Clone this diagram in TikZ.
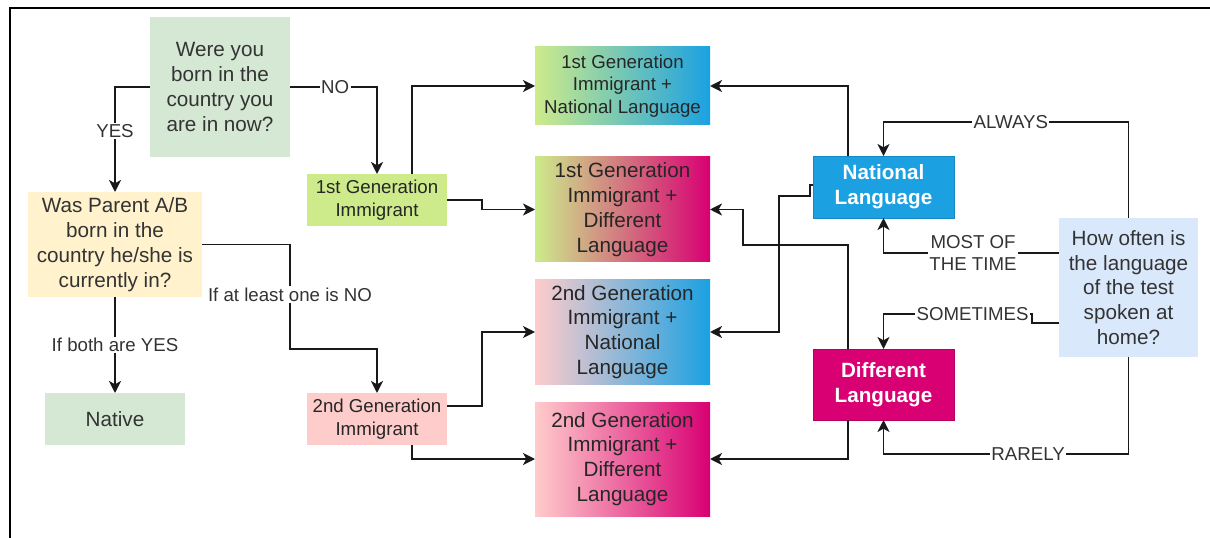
\documentclass[tikz,border=0pt]{standalone}
\usepackage{fontspec}
\setmainfont{Liberation Sans}
\usepackage{tikz}
\usetikzlibrary{arrows.meta, positioning}
\usepackage{xcolor}
\definecolor{qgreen}{HTML}{D5E8D4}
\definecolor{qyellow}{HTML}{FFF2CC}
\definecolor{qblue}{HTML}{DAE8FC}
\definecolor{gengreen}{HTML}{CDEB8B}
\definecolor{genpink}{HTML}{FFCCCC}
\definecolor{natblue}{HTML}{1BA1E2}
\definecolor{difmag}{HTML}{D80073}
\newcommand{\txtbig}{\fontsize{15.5}{18.6}\selectfont}
\newcommand{\txtsmall}{\fontsize{14}{17}\selectfont}
\tikzset{
  question/.style={
    rectangle, outer sep=0pt, inner sep=2pt,
    align=center, text=black!80, font=\txtbig
  },
  group/.style={
    rectangle, outer sep=0pt, inner sep=2pt,
    minimum width=105pt, minimum height=39pt,
    align=center, text=black!85, font=\txtsmall
  },
  outcome/.style={
    rectangle, outer sep=0pt, inner sep=2pt,
    minimum width=131.25pt,
    align=center, text=black!85, font=\txtbig
  },
  lang/.style={
    rectangle, outer sep=0pt, inner sep=2pt, line width=0.6pt,
    minimum width=105.75pt,
    align=center, text=white, font=\txtbig\bfseries
  },
  arrow/.style={-{Stealth[length=9pt,width=9pt,inset=2.5pt]}, line width=1.3pt, draw=black!90},
  lbl/.style={fill=white, inner sep=1pt, text=black!80, font=\txtsmall, align=center}
}
\begin{document}
\begin{tikzpicture}[x=0.75pt, y=-0.75pt]
  \useasboundingbox (0,0) rectangle (1210,538);
  \draw[line width=1.5pt] (10,538) -- (10,8) -- (1210,8);

  % questions
  \node[question, fill=qgreen, minimum width=105pt, minimum height=105pt] (born) at (220,87)
    {Were you\\born in the\\country you\\are in now?};
  \node[question, fill=qyellow, minimum width=130.5pt, minimum height=78.75pt] (parent) at (115,244.5)
    {Was Parent A/B\\born in the\\country he/she is\\currently in?};
  \node[question, fill=qgreen, minimum width=105pt, minimum height=39pt] (native) at (115,419) {Native};
  \node[question, fill=qblue, minimum width=104.25pt, minimum height=104.25pt] (often) at (1128.5,287.5)
    {How often is\\the language\\of the test\\spoken at\\home?};

  % generations
  \node[group, fill=gengreen] (first) at (377,200) {1st Generation\\Immigrant};
  \node[group, fill=genpink] (second) at (377,419) {2nd Generation\\Immigrant};

  % outcomes
  \node[outcome, left color=gengreen, right color=natblue, minimum height=58.5pt, font=\txtsmall] (firstnat) at (622.5,86)
    {1st Generation\\Immigrant +\\National Language};
  \node[outcome, left color=gengreen, right color=difmag, minimum height=78.75pt, below=24pt of firstnat] (firstdif)
    {1st Generation\\Immigrant +\\Different\\Language};
  \node[outcome, left color=genpink, right color=natblue, minimum height=78pt, below=13.5pt of firstdif] (secnat)
    {2nd Generation\\Immigrant +\\National\\Language};
  \node[outcome, left color=genpink, right color=difmag, minimum height=85.5pt, below=13.5pt of secnat] (secdif)
    {2nd Generation\\Immigrant +\\Different\\Language};

  % languages
  \node[lang, fill=natblue, draw=natblue!85!black, minimum height=46.5pt] (nat) at (883.5,187) {National\\Language};
  \node[lang, fill=difmag, draw=difmag!85!black, minimum height=53.25pt] (dif) at (883.5,384.5) {Different\\Language};

  % left part
  \draw[arrow] (born.west) -| node[lbl, pos=0.71] {YES} (parent.north);
  \draw[arrow] (born.east) -| node[lbl, pos=0.26] {NO} (first.north);
  \draw[arrow] (parent.east) -| node[lbl, pos=0.74] {If at least one is NO} (290,349) -| (second.north);
  \draw[arrow] (parent.south) -- node[lbl] {If both are YES} (native.north);

  \draw[arrow] ([xshift=26.25pt]first.north) |- (firstnat.west);
  \draw[arrow] (first.east) -- ++(35,0) |- (firstdif.west);
  \draw[arrow] ([yshift=9.75pt]second.east) -- ++(35,0) |- (secnat.west);
  \draw[arrow] ([xshift=26.25pt]second.south) |- (secdif.west);

  % right part
  \draw[arrow] ([xshift=-26.6pt]nat.north) |- (firstnat.east);
  \draw[arrow] ([yshift=1.5pt]nat.west) -- ++(-3,0) -- ++(0,11) -- ++(-31,0) |- (secnat.east);
  \draw[arrow] ([xshift=-26.6pt]dif.north) |- (743,245) |- (firstdif.east);
  \draw[arrow] ([xshift=-26.6pt]dif.south) |- (secdif.east);

  \draw[arrow] (often.north) -- ++(0,-96) -| node[lbl, pos=0.24] {ALWAYS} (nat.north);
  \draw[arrow] ([yshift=25.9pt]often.west) -| node[lbl, pos=0.245] {MOST OF\\THE TIME} (nat.south);
  \draw[arrow] ([yshift=-26.6pt]often.west) -- ++(-27,0) -- ++(0,-9) -| node[lbl, pos=0.2] {SOMETIMES} (dif.north);
  \draw[arrow] (often.south) -- ++(0,97) -| node[lbl, pos=0.205] {RARELY} (dif.south);
\end{tikzpicture}
\end{document}
